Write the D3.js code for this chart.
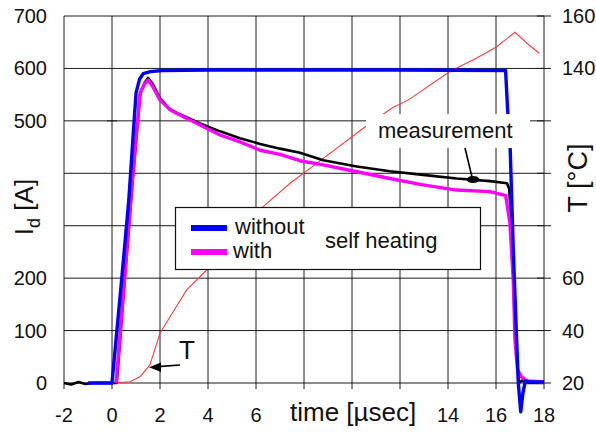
<!DOCTYPE html>
<html>
<head>
<meta charset="utf-8">
<script src="https://cdn.jsdelivr.net/npm/d3@7"></script>
<style>
  body { margin: 0; background: #fff; }
  text { font-family: "Liberation Sans", Arial, sans-serif; fill: #111; }
</style>
</head>
<body>
<script>
// tick values
var xTicks = [-2, 0, 2, 4, 6, 8, 10, 12, 14, 16, 18];
var xTickLabels = ["-2", "0", "2", "4", "6", "", "", "", "14", "16", "18"];
var yTicks = [0, 100, 200, 300, 400, 500, 600, 700];
var yTickLabels = ["0", "100", "200", "", "", "500", "600", "700"];
var tTicks = [20, 40, 60, 80, 100, 120, 140, 160];
var tTickLabels = ["20", "40", "60", "", "", "", "140", "160"];

// without self heating (blue)
var timeWithout = [-1.0, 0.0, 0.4, 0.7, 1.0, 1.15, 1.3, 1.6, 2.1, 4, 8, 12, 16.4, 16.48, 16.58, 16.72, 16.86, 16.93, 17.03, 17.12, 17.22, 17.4, 18];
var idWithout = [0, 0, 196, 349, 553, 580, 590, 594, 596, 597, 597, 597, 596, 524, 463, 254, 82, 0, -55, -20, 4, 2, 2];

// with self heating (magenta)
var timeWith = [0.17, 0.5, 0.85, 1.17, 1.35, 1.51, 1.7, 2.0, 2.42, 2.83, 3.67, 4.5, 5.33, 6.17, 7.0, 7.83, 8.8, 10.2, 11.58, 12.96, 14.36, 15.75, 16.3, 16.4, 16.58, 16.72, 16.79, 16.9, 17.05, 17.28, 18];
var idWith = [0, 185, 387, 553, 570, 578, 565, 540, 521, 511, 492, 473, 460, 444, 436, 424, 416, 403, 390, 378, 368, 365, 359, 358, 305, 196, 82, 25, 12, 4, 2];

// measurement (black)
var timeMeas = [-2, -1.7, -1.4, -1.1, -0.8, 0.0, 0.2, 0.5, 0.85, 1.17, 1.35, 1.5, 1.7, 2.0, 2.4, 2.8, 3.67, 4.5, 5.33, 6.17, 7.0, 7.83, 8.8, 10.2, 11.58, 12.96, 14.36, 15.75, 16.46, 16.55, 16.7, 16.85, 16.95, 17.1, 17.3, 18];
var idMeas = [0, -3, 2, -2, 0, 0, 0, 180, 380, 550, 572, 582, 570, 543, 523, 513, 495, 480, 467, 456, 447, 439, 425, 413, 404, 397, 390, 385, 381, 370, 250, 60, 0, 5, 0, 0];

// temperature (red, right axis)
var timeT = [0, 0.75, 1.17, 1.58, 2.0, 2.42, 3.11, 3.95, 5.0, 6.3, 7.42, 8.5, 10.47, 11.65, 12.35, 14.08, 15.2, 16.03, 16.79, 17.3, 17.8];
var tempT = [20, 20.5, 22.4, 26.9, 39, 45.3, 55.5, 63.1, 74, 87.3, 96.2, 103.6, 117.2, 124.8, 128, 138.8, 144, 148.3, 153.8, 149.5, 145.8];

var W = 596, H = 434;
var margin = {top: 16, right: 52, bottom: 51, left: 64};

var svg = d3.select("body").append("svg")
    .attr("width", W)
    .attr("height", H);

var x = d3.scaleLinear().domain([-2, 18]).range([margin.left, W - margin.right]);
var y = d3.scaleLinear().domain([0, 700]).range([H - margin.bottom, margin.top]);
var yT = d3.scaleLinear().domain([20, 160]).range([H - margin.bottom, margin.top]);

var x0 = x.range()[0], x1 = x.range()[1], yb = y.range()[0], yt = y.range()[1];

// grid
var grid = svg.append("g").attr("stroke", "#1a1a1a").attr("stroke-width", 1);
grid.selectAll(".v").data(xTicks).enter().append("line")
    .attr("x1", function(d){ return x(d); })
    .attr("x2", function(d){ return x(d); })
    .attr("y1", yt)
    .attr("y2", yb + 6);
grid.selectAll(".h").data(yTicks).enter().append("line")
    .attr("x1", x0)
    .attr("x2", x1)
    .attr("y1", function(d){ return y(d); })
    .attr("y2", function(d){ return y(d); });
// right axis ticks
grid.selectAll(".rt").data(tTicks).enter().append("line")
    .attr("x1", x1 - 7)
    .attr("x2", x1 + 7)
    .attr("y1", function(d){ return yT(d); })
    .attr("y2", function(d){ return yT(d); });
// small tick on the zero line
grid.append("line")
    .attr("x1", x(0) - 5).attr("x2", x(0) + 5)
    .attr("y1", y(500)).attr("y2", y(500));

// tick labels
svg.append("g").selectAll("text").data(xTicks).enter().append("text")
    .attr("x", function(d){ return x(d); })
    .attr("y", 422)
    .attr("text-anchor", "middle")
    .attr("font-size", 20)
    .text(function(d, i){ return xTickLabels[i]; });

svg.append("g").selectAll("text").data(yTicks).enter().append("text")
    .attr("x", 47)
    .attr("y", function(d){ return y(d); })
    .attr("dy", "0.35em")
    .attr("text-anchor", "end")
    .attr("font-size", 20)
    .text(function(d, i){ return yTickLabels[i]; });

svg.append("g").selectAll("text").data(tTicks).enter().append("text")
    .attr("x", 562)
    .attr("y", function(d){ return yT(d); })
    .attr("dy", "0.35em")
    .attr("font-size", 20)
    .text(function(d, i){ return tTickLabels[i]; });

// axis titles
svg.append("text")
    .attr("transform", "translate(33,207) rotate(-90)")
    .attr("text-anchor", "middle")
    .attr("font-size", 26)
    .html('I<tspan font-size="18" dy="7">d</tspan><tspan dy="-7"> [A]</tspan>');

svg.append("text")
    .attr("transform", "translate(587,178) rotate(-90)")
    .attr("text-anchor", "middle")
    .attr("font-size", 27)
    .text("T [°C]");

svg.append("text")
    .attr("x", 290)
    .attr("y", 421)
    .attr("font-size", 26)
    .text("time [µsec]");

// curves
function curve(xs, ys, sc) {
    return d3.line()
        .x(function(d){ return x(d); })
        .y(function(d, i){ return sc(ys[i]); })(xs);
}

svg.append("path")
    .attr("d", curve(timeT, tempT, yT))
    .attr("fill", "none")
    .attr("stroke", "#ff3b3b")
    .attr("stroke-width", 1.1);

svg.append("path")
    .attr("d", curve(timeMeas, idMeas, y))
    .attr("fill", "none")
    .attr("stroke", "#000")
    .attr("stroke-width", 2.6)
    .attr("stroke-linejoin", "round");

svg.append("path")
    .attr("d", curve(timeWith, idWith, y))
    .attr("fill", "none")
    .attr("stroke", "#ff00ff")
    .attr("stroke-width", 3.4)
    .attr("stroke-linejoin", "round");

svg.append("path")
    .attr("d", curve(timeWithout, idWithout, y))
    .attr("fill", "none")
    .attr("stroke", "#0000ff")
    .attr("stroke-width", 3.4)
    .attr("stroke-linejoin", "round");

// "measurement" note
svg.append("rect")
    .attr("x", 366).attr("y", 114)
    .attr("width", 164).attr("height", 34)
    .attr("fill", "#fff");
svg.append("text")
    .attr("x", 378).attr("y", 138)
    .attr("font-size", 22)
    .text("measurement");
svg.append("line")
    .attr("x1", 465).attr("y1", 148)
    .attr("x2", 472).attr("y2", 177)
    .attr("stroke", "#000").attr("stroke-width", 1.6);
svg.append("ellipse")
    .attr("cx", 473).attr("cy", 179.5)
    .attr("rx", 6.5).attr("ry", 3.5)
    .attr("fill", "#000");

// "T" note with arrow
svg.append("text")
    .attr("x", 179).attr("y", 359)
    .attr("font-size", 26)
    .text("T");
svg.append("line")
    .attr("x1", 180).attr("y1", 365)
    .attr("x2", 158).attr("y2", 366.6)
    .attr("stroke", "#000").attr("stroke-width", 1.6);
svg.append("path")
    .attr("d", "M149,367.3 L161,362.5 L161,372 Z")
    .attr("fill", "#000");

// legend
var lg = svg.append("g");
lg.append("rect")
    .attr("x", 175.5).attr("y", 207.5)
    .attr("width", 305).attr("height", 62)
    .attr("fill", "#fff")
    .attr("stroke", "#111")
    .attr("stroke-width", 1.2);
lg.append("line")
    .attr("x1", 191).attr("x2", 227).attr("y1", 228).attr("y2", 228)
    .attr("stroke", "#0000ff").attr("stroke-width", 6);
lg.append("line")
    .attr("x1", 191).attr("x2", 227).attr("y1", 252).attr("y2", 252)
    .attr("stroke", "#ff00ff").attr("stroke-width", 6);
lg.append("text").attr("x", 235).attr("y", 234).attr("font-size", 22).text("without");
lg.append("text").attr("x", 233).attr("y", 258).attr("font-size", 22).text("with");
lg.append("text").attr("x", 325).attr("y", 248).attr("font-size", 22).text("self heating");
</script>
</body>
</html>
